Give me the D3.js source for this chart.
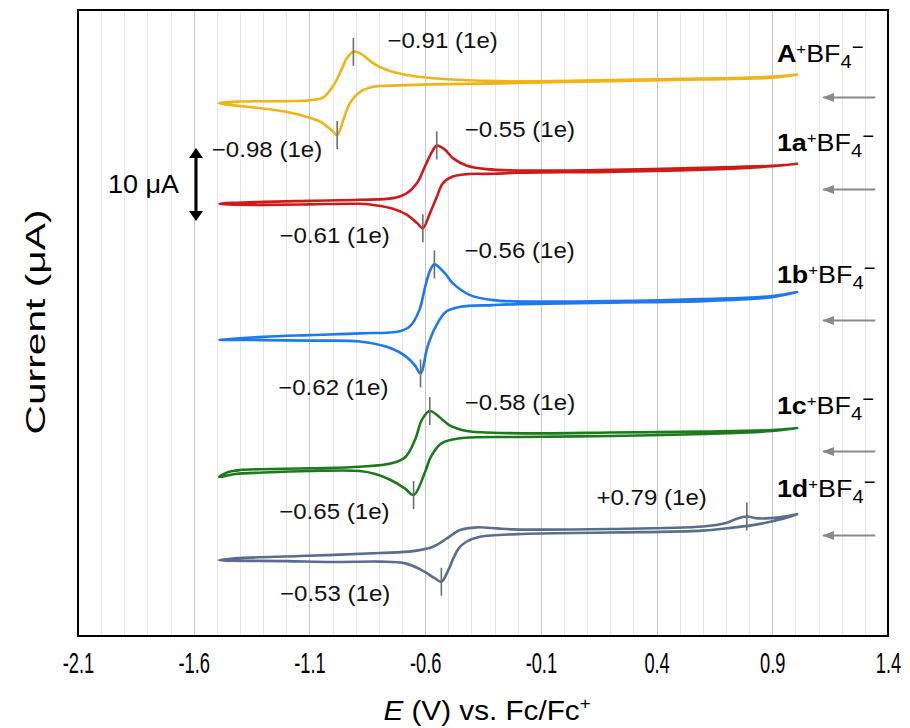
<!DOCTYPE html>
<html>
<head>
<meta charset="utf-8">
<script src="https://cdn.jsdelivr.net/npm/d3@7"></script>
<style>
  html, body { margin: 0; padding: 0; background: #fff; }
  svg { display: block; font-family: "Liberation Sans", Arial, sans-serif; }
</style>
</head>
<body>
<svg id="chart" width="910" height="728"></svg>
<script>
// ---- Data ---------------------------------------------------------------
// Potential axis ticks, V vs. Fc/Fc+
const xTicks = [-2.1, -1.6, -1.1, -0.6, -0.1, 0.4, 0.9, 1.4];

const compounds = ["A", "1a", "1b", "1c", "1d"];

// Vertical stacking offset of each voltammogram, µA
const offsets = [73.0, 59.2, 40.6, 22.05, 10.4];

// Each CV: cathodic sweep from +1.0 V down to -1.49 V, then the return sweep.
const eA = [1.007, 0.9, 0.6, 0.2, -0.277, -0.566, -0.709, -0.825, -0.88, -0.925, -0.955, -0.98, -1.0, -1.05, -1.1, -1.2, -1.3, -1.4, -1.49,
            -1.4, -1.2, -1.1, -1.04, -1.0, -0.968, -0.938, -0.91, -0.882, -0.825, -0.765, -0.678, -0.566, -0.277, 0.2, 0.6, 0.9, 1.007];
const iA = [3.90, 3.49, 3.22, 3.01, 2.70, 2.56, 2.42, 2.23, 1.55, 0.0, -2.47, -4.38, -3.84, -2.6, -2.0, -1.2, -0.75, -0.41, 0.0,
            0.21, 0.27, 0.37, 0.78, 2.23, 4.11, 6.16, 7.03, 6.85, 5.48, 4.52, 3.84, 3.40, 3.01, 3.15, 3.36, 3.63, 3.90];

const e1a = [1.007, 0.9, 0.6, 0.2, -0.2, -0.307, -0.419, -0.48, -0.523, -0.549, -0.579, -0.61, -0.635, -0.678, -0.739, -0.808, -0.882, -1.1, -1.3, -1.45, -1.49,
             -1.3, -1.1, -0.882, -0.739, -0.678, -0.635, -0.601, -0.57, -0.55, -0.514, -0.48, -0.419, -0.333, -0.2, 0.2, 0.6, 0.9, 1.007];
const i1a = [5.48, 5.14, 4.66, 4.38, 4.25, 4.11, 4.07, 3.74, 2.84, 1.00, -1.27, -3.33, -2.64, -1.51, -0.68, -0.23, 0.0, -0.07, -0.14, -0.1, 0.0,
             0.27, 0.41, 0.55, 0.78, 1.47, 2.84, 5.11, 7.15, 7.99, 7.40, 6.26, 5.21, 4.75, 4.56, 4.66, 4.93, 5.21, 5.48];

const e1b = [1.007, 0.9, 0.6, 0.2, -0.2, -0.307, -0.449, -0.51, -0.555, -0.59, -0.62, -0.645, -0.685, -0.745, -0.882, -1.1, -1.3, -1.49,
             -1.3, -1.1, -0.882, -0.709, -0.665, -0.625, -0.60, -0.578, -0.56, -0.514, -0.48, -0.406, -0.307, -0.1, 0.2, 0.6, 0.9, 1.007];
const i1b = [6.51, 5.82, 5.27, 5.07, 4.86, 4.73, 4.49, 3.81, 1.75, -0.99, -4.63, -3.49, -2.26, -1.21, -0.27, -0.14, -0.07, 0.0,
             0.38, 0.62, 0.85, 1.16, 1.85, 4.04, 7.23, 9.52, 10.30, 9.07, 7.70, 6.10, 5.41, 5.21, 5.27, 5.55, 5.96, 6.51];

const e1c = [1.007, 0.9, 0.6, 0.2, -0.2, -0.449, -0.53, -0.575, -0.60, -0.65, -0.688, -0.749, -0.815, -0.882, -1.1, -1.3, -1.42, -1.49,
             -1.45, -1.4, -1.1, -0.882, -0.745, -0.684, -0.641, -0.615, -0.58, -0.54, -0.496, -0.419, -0.307, -0.1, 0.2, 0.6, 0.9, 1.007];
const i1c = [6.44, 6.03, 5.62, 5.34, 5.21, 5.03, 4.34, 2.51, 0.45, -2.74, -1.82, -0.68, 0.14, 0.55, 0.55, 0.34, 0.14, -0.27,
             0.41, 0.68, 0.92, 1.14, 1.60, 2.51, 5.03, 7.53, 8.77, 7.99, 6.85, 6.03, 5.79, 5.71, 5.82, 5.96, 6.16, 6.44];

const e1d = [1.007, 0.95, 0.83, 0.73, 0.6, 0.2, -0.2, -0.363, -0.422, -0.455, -0.478, -0.50, -0.53, -0.557, -0.615, -0.685, -0.795, -1.0, -1.2, -1.49,
             -1.4, -1.14, -0.795, -0.652, -0.566, -0.506, -0.449, -0.376, -0.29, -0.22, 0.2, 0.6, 0.7, 0.75, 0.79, 0.84, 0.93, 1.007];
const i1d = [6.26, 5.68, 4.86, 4.45, 4.04, 3.77, 3.56, 3.19, 2.51, 1.60, 0.23, -1.37, -2.97, -2.51, -1.37, -0.45, -0.21, -0.27, -0.14, 0.0,
             0.27, 0.55, 0.96, 1.23, 1.82, 2.97, 4.11, 4.48, 4.34, 4.21, 4.25, 4.59, 5.07, 5.71, 5.96, 5.71, 5.85, 6.26];

const potentials = [eA, e1a, e1b, e1c, e1d];
const currents = [iA, i1a, i1b, i1c, i1d];

// Peak potentials (V): [anodic, cathodic], all one-electron processes
const peakPotentials = [[-0.91, -0.98], [-0.55, -0.61], [-0.56, -0.62], [-0.58, -0.65], [0.79, -0.53]];
const electrons = 1;

// Scale bar, µA
const scaleBarAmp = 10;

// ---- Styles & layout ----------------------------------------------------
const colors = ["#F0B418", "#D01919", "#1E78F0", "#1C7A1C", "#5A6D8C"];
const gridMinor = "#e6e6e6", gridMajor = "#c4c4c4";
const textStretch = 1.12;            // horizontal stretch of the annotation face
// Peak label placement relative to the marker: [dx, dy, anchor]
const peakLabelPos = [
  [[34, -4, "start"], [-15, 22, "end"]],
  [[28, -8, "start"], [-33, 15, "end"]],
  [[30, -6, "start"], [-32, 22, "end"]],
  [[35, -1, "start"], [-24, 24, "end"]],
  [[-40, -12, "end"], [-51, 19, "end"]]
];
const nameDy = [-12.5, -13, -9, -14, -17];
const arrowDy = [22, 25, 28, 23, 21];

// ---- Chart --------------------------------------------------------------
const svg = d3.select("#chart");
const x = d3.scaleLinear().domain([-2.1, 1.4]).range([78, 888]);
const y = d3.scaleLinear().domain([0, 85.75]).range([636, 10]);

// text placed at (px, py) and stretched horizontally about its anchor
function label(px, py, size, anchor, sx = textStretch) {
  return svg.append("text")
    .attr("transform", `translate(${px},${py}) scale(${sx},1)`)
    .attr("text-anchor", anchor).attr("font-size", size).attr("fill", "#000");
}

// vertical grid every 0.1 V, darker every 0.5 V
const gridVals = d3.range(1, 35).map(i => -2.1 + i * 0.1);
svg.append("g").selectAll("line").data(gridVals).join("line")
  .attr("x1", d => Math.round(x(d)) + 0.5).attr("x2", d => Math.round(x(d)) + 0.5)
  .attr("y1", y.range()[1]).attr("y2", y.range()[0])
  .attr("stroke", (d, i) => ((i + 1) % 5 === 0 ? gridMajor : gridMinor))
  .attr("stroke-width", 1);

// x axis labels (condensed face)
const xAxis = d3.axisBottom(x).tickValues(xTicks).tickSize(0).tickPadding(16)
  .tickFormat(d => d.toFixed(1));
const gx = svg.append("g").attr("transform", `translate(0,${y.range()[0]})`).call(xAxis);
gx.select(".domain").remove();
gx.selectAll("text")
  .attr("font-family", "'Liberation Sans', Arial, sans-serif")
  .attr("font-size", 29).attr("fill", "#000")
  .attr("transform", "scale(0.63,1)");

// voltammograms
const line = d3.line().curve(d3.curveCatmullRom.alpha(0.5));
compounds.forEach((c, k) => {
  const pts = potentials[k].map((e, i) => [x(e), y(currents[k][i] + offsets[k])]);
  svg.append("path").attr("d", line(pts))
    .attr("fill", "none").attr("stroke", colors[k])
    .attr("stroke-width", 2.6).attr("stroke-linejoin", "round").attr("stroke-linecap", "round");
});

// peak markers and labels
const fmtE = v => (v < 0 ? "\u2212" : "+") + Math.abs(v).toFixed(2) + ` (${electrons}e)`;
peakPotentials.forEach((pair, k) => {
  pair.forEach((ep, j) => {
    const es = potentials[k], is = currents[k];
    const idx = es.map((e, i) => i).filter(i => Math.abs(es[i] - ep) < 1e-9);
    const ip = j === 0 ? d3.max(idx, i => is[i]) : d3.min(idx, i => is[i]);
    const px = x(ep), py = y(ip + offsets[k]);
    svg.append("line").attr("x1", px).attr("x2", px).attr("y1", py - 14).attr("y2", py + 14)
      .attr("stroke", "#6e6e6e").attr("stroke-width", 1.6);
    const [dx, dy, anchor] = peakLabelPos[k][j];
    label(px + dx, py + dy, 21.5, anchor).attr("fill", "#111").text(fmtE(ep));
  });
});

// compound names and scan direction arrows
svg.append("defs").append("marker")
  .attr("id", "scanHead").attr("viewBox", "0 0 12 10").attr("refX", 11).attr("refY", 5)
  .attr("markerWidth", 12).attr("markerHeight", 10).attr("markerUnits", "userSpaceOnUse")
  .attr("orient", "auto")
  .append("path").attr("d", "M0,0.5 L12,5 L0,9.5 Z").attr("fill", "#8a8a8a");

compounds.forEach((c, k) => {
  const n = potentials[k].length;
  const yEnd = y(currents[k][n - 1] + offsets[k]);
  const t = label(x(0.92), yEnd + nameDy[k], 24, "start");
  t.append("tspan").attr("font-weight", "bold").text(c);
  t.append("tspan").attr("font-size", 15).attr("dy", -8).text("+");
  t.append("tspan").attr("dy", 8).text("BF");
  t.append("tspan").attr("font-size", 18).attr("dy", 6).text("4");
  t.append("tspan").attr("font-size", 18).attr("dy", -15).text("\u2212");

  const ya = Math.round(yEnd + arrowDy[k]) + 0.5;
  svg.append("line").attr("x1", x(1.345)).attr("x2", x(1.12))
    .attr("y1", ya).attr("y2", ya)
    .attr("stroke", "#8a8a8a").attr("stroke-width", 2)
    .attr("marker-end", "url(#scanHead)");
});

// current scale bar
const sbE = -1.59, sbBase = 56.85;
const sbx = x(sbE), sbTop = y(sbBase + scaleBarAmp), sbBot = y(sbBase);
svg.append("line").attr("x1", sbx).attr("x2", sbx).attr("y1", sbTop + 8).attr("y2", sbBot - 8)
  .attr("stroke", "#000").attr("stroke-width", 3);
svg.append("path").attr("d", `M${sbx},${sbTop} L${sbx - 7},${sbTop + 10} L${sbx + 7},${sbTop + 10} Z`).attr("fill", "#000");
svg.append("path").attr("d", `M${sbx},${sbBot} L${sbx - 7},${sbBot - 10} L${sbx + 7},${sbBot - 10} Z`).attr("fill", "#000");
label(sbx - 17, (sbTop + sbBot) / 2 + 9, 25, "end", 1.08).text(`${scaleBarAmp} \u03BCA`);

// plot frame
svg.append("rect").attr("x", x.range()[0]).attr("y", y.range()[1])
  .attr("width", x.range()[1] - x.range()[0]).attr("height", y.range()[0] - y.range()[1])
  .attr("fill", "none").attr("stroke", "#000").attr("stroke-width", 2);

// axis titles
const xt = label(487, 720, 27, "middle", 1.1);
xt.append("tspan").attr("font-style", "italic").text("E");
xt.append("tspan").text(" (V) vs. Fc/Fc");
xt.append("tspan").attr("font-size", 17).attr("dy", -11).text("+");

svg.append("text").attr("transform", "translate(45,322) rotate(-90)")
  .attr("text-anchor", "middle").attr("font-size", 28).attr("fill", "#000")
  .attr("textLength", 225).attr("lengthAdjust", "spacingAndGlyphs")
  .text("Current (\u03BCA)");
</script>
</body>
</html>
